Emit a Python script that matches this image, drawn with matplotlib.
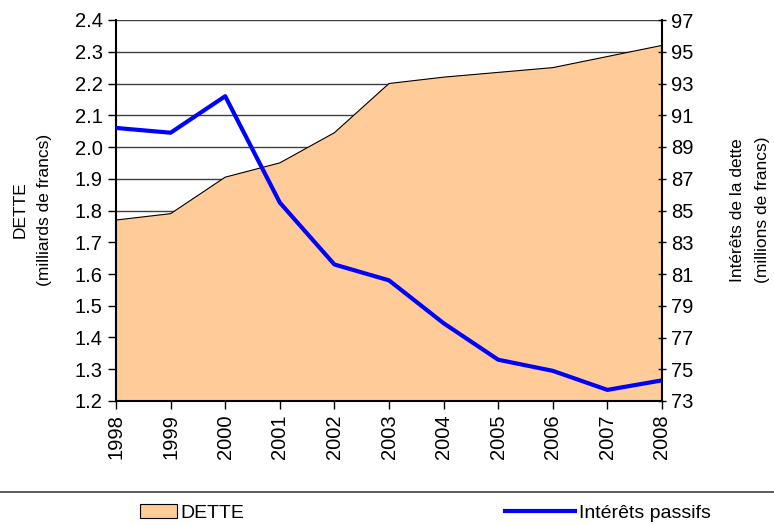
import matplotlib.pyplot as plt
from matplotlib.patches import Patch
from matplotlib.lines import Line2D

plt.rcParams['font.family'] = ['Liberation Sans', 'DejaVu Sans']

years = [1998, 1999, 2000, 2001, 2002, 2003, 2004, 2005, 2006, 2007, 2008]
dette = [1.77, 1.79, 1.905, 1.95, 2.045, 2.20, 2.22, 2.235, 2.25, 2.285, 2.32]
interets = [90.2, 89.9, 92.2, 85.5, 81.6, 80.6, 77.9, 75.6, 74.9, 73.7, 74.3]

fig = plt.figure(figsize=(7.74, 5.25), dpi=100)
ax = fig.add_axes([116/774, 1 - 401/525, (662-116)/774, (401-20)/525])

# grille
yticks = [1.2 + 0.1*i for i in range(13)]
for y in yticks:
    ax.axhline(y, color='#404040', lw=1, zorder=1)

ax.fill_between(years, dette, 1.2, color='#FFCC99', zorder=2)
ax.plot(years, dette, color='black', lw=0.8, zorder=3)
ax.set_xlim(1998, 2008)
ax.set_ylim(1.2, 2.4)
ax.set_yticks(yticks)
ax.set_yticklabels([f"{y:.1f}" for y in yticks])
ax.set_xticks(years)
ax.set_xticklabels([str(y) for y in years], rotation=90)
ax.tick_params(axis='both', labelsize=14.5, length=6, width=1, direction='out', colors='black')
for s in ['top', 'right']:
    ax.spines[s].set_visible(False)
for s in ['left', 'bottom']:
    ax.spines[s].set_linewidth(1.5)
    ax.spines[s].set_zorder(5)

ax2 = ax.twinx()
ax2.plot(years, interets, color='#0000FF', lw=3, zorder=4)
ax2.set_ylim(73, 97)
ax2.set_yticks(list(range(73, 98, 2)))
ax2.tick_params(axis='y', labelsize=14.5, length=6, width=1, direction='inout')
for s in ['top', 'left', 'bottom']:
    ax2.spines[s].set_visible(False)
ax2.spines['right'].set_linewidth(1.5)

# titres des axes
mid_y = 1 - 210/525
fig.text(32/774, mid_y, "DETTE\n(milliards de francs)", rotation=90, ha='center',
         va='center', fontsize=12.5, linespacing=1.8)
fig.text(750/774, mid_y, "Intérêts de la dette\n(millions de francs)", rotation=90,
         ha='center', va='center', fontsize=12.5, linespacing=1.8)

# légende en bas
fig.add_artist(Line2D([0, 1], [1 - 492/525, 1 - 492/525], color='#404040', lw=1.2))
leg_y = 1 - 513/525
fig.legend(handles=[Patch(facecolor='#FFCC99', edgecolor='black', lw=0.8, label='DETTE')],
           loc='center left', bbox_to_anchor=(140/774, leg_y), frameon=False,
           fontsize=14, borderpad=0, borderaxespad=0, handlelength=1.9,
           handletextpad=0.2)
fig.legend(handles=[Line2D([], [], color='#0000FF', lw=3, label='Intérêts passifs')],
           loc='center left', bbox_to_anchor=(505/774, leg_y), frameon=False,
           fontsize=14, borderpad=0, borderaxespad=0, handlelength=3.6,
           handletextpad=0.2)

plt.savefig('out.png', dpi=100)
